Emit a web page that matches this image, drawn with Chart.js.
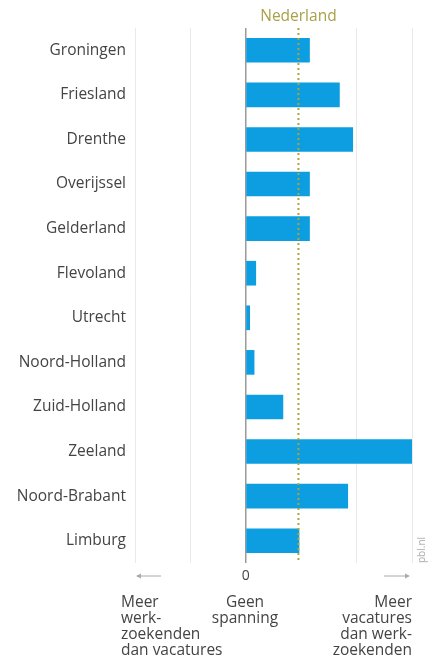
<!DOCTYPE html>
<html>
<head>
<meta charset="utf-8">
<script src="https://cdn.jsdelivr.net/npm/chart.js@4"></script>
<style>
  body { margin: 0; background: #fff; font-family: "Open Sans", sans-serif; }
  #wrap { position: relative; width: 431px; height: 667px; }
  .note { position: absolute; font-size: 15.5px; line-height: 16px; color: #444; }
  #pbl { position: absolute; left: 408px; top: 543px; font-size: 10px; color: #aaa; transform: rotate(-90deg); }
</style>
</head>
<body>
<div id="wrap">
  <canvas id="spanningChart" width="431" height="667"></canvas>
  <div class="note" style="left:121px; top:593px; text-align:left;">Meer<br>werk-<br>zoekenden<br>dan vacatures</div>
  <div class="note" style="left:195px; top:593px; width:100px; text-align:center;">Geen<br>spanning</div>
  <div class="note" style="right:19px; top:593px; text-align:right;">Meer<br>vacatures<br>dan werk-<br>zoekenden</div>
  <div id="pbl">pbl.nl</div>
</div>
<script>
// Provinces and tension index
const provinces = ['Groningen', 'Friesland', 'Drenthe', 'Overijssel', 'Gelderland', 'Flevoland',
    'Utrecht', 'Noord-Holland', 'Zuid-Holland', 'Zeeland', 'Noord-Brabant', 'Limburg'];
const spanning = [1.15, 1.69, 1.93, 1.15, 1.15, 0.18, 0.07, 0.15, 0.67, 3.0, 1.84, 0.96];
const nederland = 0.95;
const axisMin = -2;
const axisMax = 3;

// Dotted national average line with its label
const nederlandLine = {
    id: 'nederlandLine',
    afterDatasetsDraw(chart) {
        const ctx = chart.ctx;
        const area = chart.chartArea;
        const x = chart.scales.x.getPixelForValue(nederland);
        ctx.save();
        ctx.strokeStyle = '#b3a434';
        ctx.lineWidth = 2;
        ctx.setLineDash([2, 3]);
        ctx.beginPath();
        ctx.moveTo(x, area.top);
        ctx.lineTo(x, area.bottom);
        ctx.stroke();
        ctx.setLineDash([]);
        ctx.fillStyle = '#aaa049';
        ctx.font = '15.5px "Open Sans"';
        ctx.textAlign = 'center';
        ctx.textBaseline = 'middle';
        ctx.fillText('Nederland', x, 17);
        ctx.restore();
    }
};

// Small arrows left and right under the axis
const axisArrows = {
    id: 'axisArrows',
    afterDraw(chart) {
        const ctx = chart.ctx;
        const sx = chart.scales.x;
        const y = 576;
        const xl = sx.getPixelForValue(axisMin);
        const xr = sx.getPixelForValue(axisMax);
        ctx.save();
        ctx.strokeStyle = '#aaa';
        ctx.fillStyle = '#aaa';
        ctx.lineWidth = 1;
        ctx.beginPath();
        ctx.moveTo(xl + 2, y); ctx.lineTo(xl + 26, y);
        ctx.moveTo(xr - 28, y); ctx.lineTo(xr - 4, y);
        ctx.stroke();
        ctx.beginPath();
        ctx.moveTo(xl + 1, y); ctx.lineTo(xl + 6, y - 2.5); ctx.lineTo(xl + 6, y + 2.5); ctx.closePath();
        ctx.moveTo(xr - 2, y); ctx.lineTo(xr - 7, y - 2.5); ctx.lineTo(xr - 7, y + 2.5); ctx.closePath();
        ctx.fill();
        ctx.restore();
    }
};

new Chart(document.getElementById('spanningChart').getContext('2d'), {
    type: 'bar',
    data: {
        labels: provinces,
        datasets: [{
            data: spanning,
            backgroundColor: '#0c9ee0',
            barThickness: 24,
        }],
    },
    options: {
        indexAxis: 'y',
        responsive: false,
        animation: false,
        layout: { padding: { top: 28, right: 19, bottom: 74, left: 0 } },
        plugins: { legend: { display: false }, tooltip: { enabled: false } },
        scales: {
            x: {
                min: axisMin,
                max: axisMax,
                border: { display: false },
                grid: {
                    drawTicks: false,
                    color: (c) => {
                        if (!c.tick) return '#e9e9e9';
                        if (c.tick.value === 0) return '#9a9a9a';
                        if (c.tick.value === 1) return 'rgba(0,0,0,0)';
                        return '#e9e9e9';
                    },
                    lineWidth: (c) => c.tick && c.tick.value === 0 ? 1.5 : 1,
                },
                ticks: {
                    stepSize: 1,
                    padding: 5,
                    color: '#444',
                    font: { family: 'Open Sans', size: 14 },
                    callback: (v) => v === 0 ? '0' : '',
                },
                afterFit: (scale) => { scale.height = 30; },
            },
            y: {
                border: { display: false },
                grid: { display: false, drawTicks: false },
                ticks: {
                    padding: 9,
                    color: '#444',
                    font: { family: 'Open Sans', size: 15.5 },
                },
                afterFit: (scale) => { scale.width = 135; },
            },
        },
    },
    plugins: [nederlandLine, axisArrows],
});
</script>
</body>
</html>
